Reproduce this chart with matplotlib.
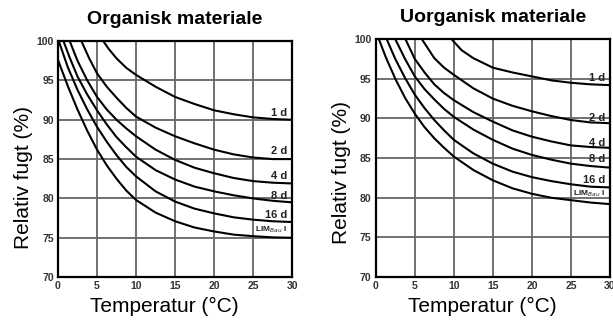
import matplotlib
matplotlib.use('Agg')
import matplotlib.pyplot as plt

plt.rcParams['font.family'] = ['Liberation Sans', 'DejaVu Sans']

# ---- data ----
curve_names = ['1 d', '2 d', '4 d', '8 d', '16 d', 'LIM$_{Bau}$ I']

# Organisk materiale
org_x = [
    [5.8, 6.5, 7.5, 8.75, 10, 12.5, 15, 17.5, 20, 22.5, 25, 27.5, 30],
    [3.0, 4, 5, 6.25, 7.5, 8.75, 10, 12.5, 15, 17.5, 20, 22.5, 25, 27.5, 30],
    [1.5, 2.5, 3.75, 5, 6.25, 7.5, 8.75, 10, 12.5, 15, 17.5, 20, 22.5, 25, 27.5, 30],
    [0.7, 1.5, 2.5, 3.75, 5, 6.25, 7.5, 8.75, 10, 12.5, 15, 17.5, 20, 22.5, 25, 27.5, 30],
    [0.1, 1.25, 2.5, 3.75, 5, 6.25, 7.5, 8.75, 10, 12.5, 15, 17.5, 20, 22.5, 25, 27.5, 30],
    [0, 1.25, 2.5, 3.75, 5, 6.25, 7.5, 8.75, 10, 12.5, 15, 17.5, 20, 22.5, 25, 27.5, 30],
]
org_y = [
    [100, 99.0, 97.8, 96.6, 95.7, 94.2, 92.9, 92.0, 91.2, 90.7, 90.3, 90.1, 90.0],
    [100, 97.8, 95.9, 94.2, 92.8, 91.5, 90.4, 89.0, 87.9, 87.0, 86.2, 85.6, 85.2, 85.0, 85.0],
    [100, 97.5, 95.0, 92.9, 91.3, 90.0, 88.9, 87.9, 86.2, 84.9, 83.9, 83.2, 82.6, 82.2, 82.0, 81.9],
    [100, 97.9, 95.5, 93.2, 91.2, 89.4, 87.8, 86.5, 85.3, 83.6, 82.4, 81.5, 80.9, 80.4, 80.0, 79.7, 79.5],
    [100, 96.7, 93.8, 91.3, 89.1, 87.2, 85.5, 84.0, 82.8, 80.9, 79.6, 78.7, 78.1, 77.6, 77.3, 77.1, 77.0],
    [97.6, 94.3, 91.3, 88.6, 86.2, 84.2, 82.5, 81.0, 79.8, 78.2, 77.1, 76.3, 75.8, 75.4, 75.2, 75.05, 75.0],
]
org_label_y = [90.8, 86.0, 82.9, 80.3, 77.9, 76.0]

# Uorganisk materiale
uorg_x = [
    [9.7, 11, 12.5, 15, 17.5, 20, 22.5, 25, 27.5, 30],
    [5.9, 7.5, 8.75, 10, 12.5, 15, 17.5, 20, 22.5, 25, 27.5, 30],
    [3.8, 5, 6.25, 7.5, 8.75, 10, 12.5, 15, 17.5, 20, 22.5, 25, 27.5, 30],
    [2.5, 3.75, 5, 6.25, 7.5, 8.75, 10, 12.5, 15, 17.5, 20, 22.5, 25, 27.5, 30],
    [1.4, 2.5, 3.75, 5, 6.25, 7.5, 8.75, 10, 12.5, 15, 17.5, 20, 22.5, 25, 27.5, 30],
    [0.4, 1.25, 2.5, 3.75, 5, 6.25, 7.5, 8.75, 10, 12.5, 15, 17.5, 20, 22.5, 25, 27.5, 30],
]
uorg_y = [
    [100, 98.6, 97.6, 96.4, 95.8, 95.3, 94.8, 94.5, 94.3, 94.2],
    [100, 97.6, 96.4, 95.5, 93.8, 92.5, 91.6, 90.9, 90.3, 89.8, 89.5, 89.4],
    [100, 97.5, 95.8, 94.3, 93.2, 92.3, 90.8, 89.6, 88.5, 87.7, 87.1, 86.6, 86.4, 86.3],
    [100, 97.5, 95.3, 93.7, 92.4, 91.2, 90.2, 88.6, 87.3, 86.2, 85.4, 84.8, 84.3, 84.0, 83.8],
    [100, 97.5, 95.1, 93.0, 91.3, 89.8, 88.5, 87.3, 85.6, 84.3, 83.3, 82.6, 82.1, 81.7, 81.4, 81.3],
    [100, 97.8, 95.0, 92.6, 90.6, 88.9, 87.5, 86.3, 85.2, 83.5, 82.2, 81.2, 80.5, 80.0, 79.7, 79.4, 79.2],
]
uorg_label_y = [95.1, 90.1, 86.9, 84.9, 82.3, 80.5]

ticks_x = [0, 5, 10, 15, 20, 25, 30]
ticks_y = [70, 75, 80, 85, 90, 95, 100]

fig = plt.figure(figsize=(6.13, 3.26), dpi=100)
ax1 = fig.add_axes([0.0946, 0.150, 0.382, 0.724])
ax2 = fig.add_axes([0.613, 0.150, 0.382, 0.730])


def draw_panel(ax, title, xs, ys, label_y, ylab_pos):
    for x, y in zip(xs, ys):
        ax.plot(x, y, color='black', linewidth=1.5, solid_capstyle='butt')
    for name, ly in zip(curve_names, label_y):
        fs = 6 if name.startswith('LIM') else 8
        ax.text(29.4, ly, name, ha='right', va='center', fontsize=fs,
                fontweight='bold', color='#222222')
    ax.set_xlim(0, 30)
    ax.set_ylim(70, 100)
    ax.set_xticks(ticks_x)
    ax.set_yticks(ticks_y)
    ax.grid(True, color='#666666', linewidth=1.3)
    ax.set_axisbelow(True)
    for s in ax.spines.values():
        s.set_linewidth(1.6)
    ax.tick_params(length=0, pad=3, labelsize=7.5, labelcolor='#333333')
    for lab in ax.get_xticklabels() + ax.get_yticklabels():
        lab.set_fontweight('bold')
    ax.set_title(title, fontsize=14, fontweight='bold', pad=12)
    ax.set_xlabel('Temperatur (°C)', fontsize=15)
    ax.set_ylabel('Relativ fugt (%)', fontsize=15)
    ax.xaxis.set_label_coords(0.453, -0.085)
    ax.yaxis.set_label_coords(-0.105, ylab_pos)


draw_panel(ax1, 'Organisk materiale', org_x, org_y, org_label_y, 0.42)
draw_panel(ax2, 'Uorganisk materiale', uorg_x, uorg_y, uorg_label_y, 0.44)

fig.savefig('out.png', dpi=100)
